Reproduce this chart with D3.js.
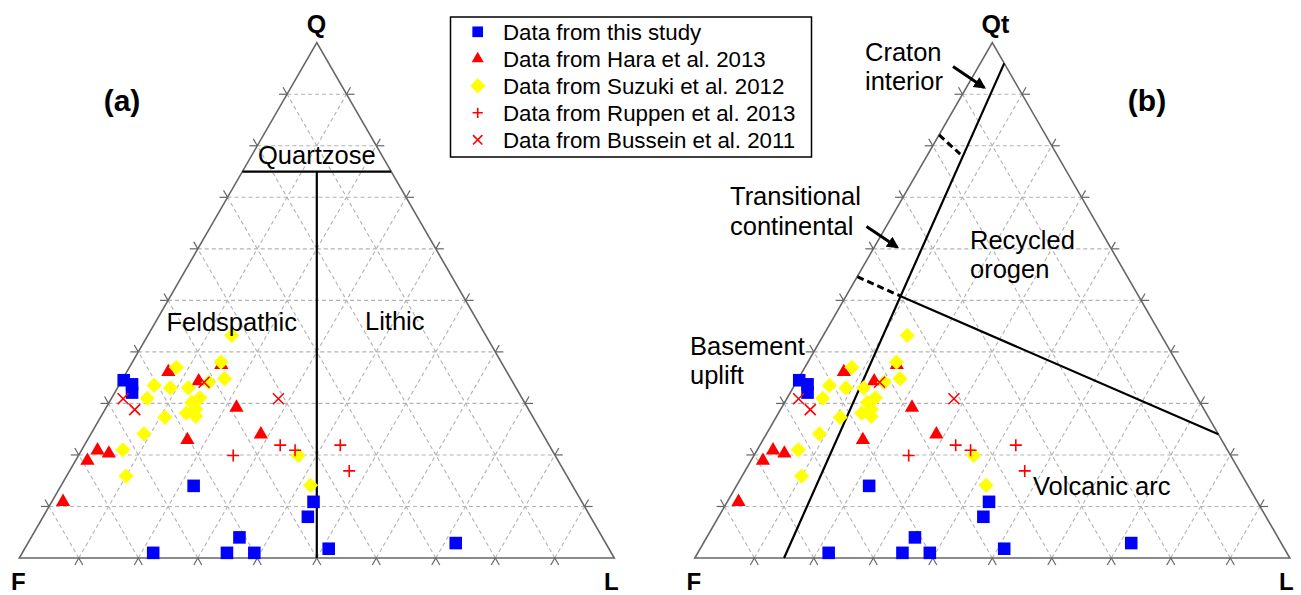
<!DOCTYPE html>
<html><head><meta charset="utf-8">
<script src="https://cdn.jsdelivr.net/npm/d3@7"></script>
<style>
body{margin:0;background:#fff}
svg{display:block}
text{font-family:"Liberation Sans",Arial,Helvetica,sans-serif;fill:#000}
</style>
</head><body>
<svg id="chart" width="1301" height="595"></svg>
<script>
// Compositions as [Q, F, L] in percent
const thisStudy = [
  [34.5,65.2,0.3],[33.7,64.2,2.1],[32.1,65.0,2.9],[14.0,63.7,22.3],
  [10.9,45.1,44.0],[8.0,47.5,44.5],[1.8,47.1,51.1],[2.9,25.2,71.9],
  [1.0,77.0,22.0],[1.0,64.6,34.4],[4.0,61.0,35.0],[1.0,60.0,39.0]
];
const hara2013 = [
  [36.1,56.9,7.0],[34.3,52.7,13.0],[29.2,48.9,21.9],[24.0,47.4,28.6],
  [22.9,60.3,16.8],[20.9,76.4,2.7],[20.3,74.8,4.9],[18.9,79.1,2.0],
  [10.9,87.2,1.9],[37.5,47.3,15.2]
];
const suzuki2012 = [
  [43.2,42.7,14.1],[37.0,55.1,7.9],[38.0,47.1,14.9],[34.8,48.1,17.1],
  [33.5,60.6,5.9],[33.0,58.1,8.9],[33.0,55.1,11.9],[34.1,51.1,14.8],
  [31.0,63.0,6.0],[31.1,54.1,14.8],[30.2,55.9,13.9],[28.1,57.9,14.0],
  [27.5,56.6,15.9],[27.3,61.9,10.8],[24.1,67.0,8.9],[21.0,72.1,6.9],
  [15.9,74.1,10.0],[19.9,43.2,36.9],[14.1,44.0,41.9],[28.9,55.9,15.2]
];
const ruppen2013 = [
  [19.9,54.1,26.0],[21.9,45.2,32.9],[20.9,43.2,35.9],[21.9,35.1,43.0],[16.9,36.1,47.0]
];
const bussein2011 = [
  [30.9,67.1,2.0],[28.8,66.2,5.0],[34.1,51.9,14.0],[30.9,41.0,28.1]
];
const legendLabels = [
  "Data from this study","Data from Hara et al. 2013","Data from Suzuki et al. 2012",
  "Data from Ruppen et al. 2013","Data from Bussein et al. 2011"
];
const gridSteps = [10,20,30,40,50,60,70,80,90];

// Field boundaries, [Q, F, L]
const qflBoundaries = [
  [[75,25,0],[75,0,25]],
  [[75,12.5,12.5],[0,50,50]]
];
const qtflSolid = [
  [[0,85,15],[96,0,4]],
  [[50.8,40.0,9.2],[24,0,76]]
];
const qtflDashed = [
  [[82.1,17.9,0],[78.4,16.2,5.4]],
  [[54.6,45.4,0],[50.8,40.0,9.2]]
];

const svg = d3.select("#chart");
svg.append("rect").attr("width",1301).attr("height",595).attr("fill","#fff");

const W = 595, H = W*Math.sqrt(3)/2;

function makeProj(left, base){
  const xs = d3.scaleLinear().domain([0,100]).range([left, left+W]);
  const ys = d3.scaleLinear().domain([0,100]).range([base, base-H]);
  return d => [xs(d[2] + d[0]/2), ys(d[0])];
}

const shapes = {
  square: d3.symbol().type(d3.symbolSquare).size(158)(),
  triangle: d3.symbol().type(d3.symbolTriangle).size(88)(),
  diamond: d3.symbol().type(d3.symbolSquare).size(116)()
};

function drawMarker(g, kind, x, y, scale){
  const s = scale || 1;
  if(kind === "square"){
    g.append("path").attr("d", shapes.square).attr("fill","#0000ff")
      .attr("transform",`translate(${x},${y}) scale(${s})`);
  } else if(kind === "triangle"){
    g.append("path").attr("d", shapes.triangle).attr("fill","#ff0000")
      .attr("transform",`translate(${x},${y}) scale(${s})`);
  } else if(kind === "diamond"){
    g.append("path").attr("d", shapes.diamond).attr("fill","#ffff00")
      .attr("transform",`translate(${x},${y}) rotate(45) scale(${s})`);
  } else if(kind === "plus"){
    const r = 6*s;
    g.append("path").attr("d",`M${x-r},${y}H${x+r}M${x},${y-r}V${y+r}`)
      .attr("stroke","#ff0000").attr("stroke-width",1.6).attr("fill","none");
  } else if(kind === "cross"){
    const r = 5.5*s;
    g.append("path").attr("d",`M${x-r},${y-r}L${x+r},${y+r}M${x-r},${y+r}L${x+r},${y-r}`)
      .attr("stroke","#ff0000").attr("stroke-width",1.6).attr("fill","none");
  }
}

const seriesList = [
  {data:thisStudy, kind:"square"},
  {data:hara2013, kind:"triangle"},
  {data:suzuki2012, kind:"diamond"},
  {data:ruppen2013, kind:"plus"},
  {data:bussein2011, kind:"cross"}
];

svg.append("defs").append("marker")
  .attr("id","arrowHead").attr("viewBox","0 0 10 10").attr("refX",8).attr("refY",5)
  .attr("markerWidth",4).attr("markerHeight",4).attr("orient","auto")
  .append("path").attr("d","M0,0L10,5L0,10Z").attr("fill","#000");

function drawPanel(left, base, opts){
  const p = makeProj(left, base);
  const g = svg.append("g");
  const tickLen = 8;

  // dashed grid and outward ticks
  const gridLines = [];
  gridSteps.forEach(v => {
    gridLines.push([[v,100-v,0],[v,0,100-v]]);
    gridLines.push([[0,100-v,v],[100-v,0,v]]);
    gridLines.push([[0,v,100-v],[100-v,v,0]]);
  });
  gridLines.forEach(([a,b]) => {
    const [x1,y1] = p(a), [x2,y2] = p(b);
    g.append("line").attr("x1",x1).attr("y1",y1).attr("x2",x2).attr("y2",y2)
      .attr("stroke","#b3b3b3").attr("stroke-width",1.1).attr("stroke-dasharray","4,3");
    const len = Math.hypot(x2-x1,y2-y1), ux=(x2-x1)/len, uy=(y2-y1)/len;
    g.append("line").attr("x1",x1).attr("y1",y1).attr("x2",x1-ux*tickLen).attr("y2",y1-uy*tickLen)
      .attr("stroke","#666").attr("stroke-width",1.2);
    g.append("line").attr("x1",x2).attr("y1",y2).attr("x2",x2+ux*tickLen).attr("y2",y2+uy*tickLen)
      .attr("stroke","#666").attr("stroke-width",1.2);
  });

  // outline
  const corners = [[0,100,0],[0,0,100],[100,0,0]].map(p);
  g.append("path").attr("d","M"+corners.map(c=>c.join(",")).join("L")+"Z")
    .attr("fill","none").attr("stroke","#666").attr("stroke-width",1.6);

  // field boundaries
  opts.solid.forEach(([a,b]) => {
    const [x1,y1]=p(a),[x2,y2]=p(b);
    g.append("line").attr("x1",x1).attr("y1",y1).attr("x2",x2).attr("y2",y2)
      .attr("stroke","#000").attr("stroke-width",2.2);
  });
  (opts.dashed||[]).forEach(([a,b]) => {
    const [x1,y1]=p(a),[x2,y2]=p(b);
    g.append("line").attr("x1",x1).attr("y1",y1).attr("x2",x2).attr("y2",y2)
      .attr("stroke","#000").attr("stroke-width",3).attr("stroke-dasharray","7,4");
  });

  // data
  seriesList.forEach(s => {
    s.data.forEach(d => { const [x,y] = p(d); drawMarker(g, s.kind, x, y); });
  });
  return g;
}

drawPanel(19.3, 558, {solid:qflBoundaries});
drawPanel(694.8, 558, {solid:qtflSolid, dashed:qtflDashed});

// vertex and panel labels
function label(txt, x, y, size, weight, anchor){
  svg.append("text").attr("x",x).attr("y",y).attr("font-size",size)
    .attr("font-weight",weight||"normal").attr("text-anchor",anchor||"start").text(txt);
}
label("Q", 316.5, 33, 25, "bold", "middle");
label("F", 11, 590, 24, "bold");
label("L", 604, 590, 24, "bold");
label("(a)", 122, 111, 30, "bold", "middle");
label("Qt", 981.5, 33, 25, "bold");
label("F", 686.5, 590, 24, "bold");
label("L", 1279, 590, 24, "bold");
label("(b)", 1147, 111, 30, "bold", "middle");

// field names
label("Quartzose", 316.8, 163.5, 25.5, "normal", "middle");
label("Feldspathic", 166.5, 331, 25.5);
label("Lithic", 365, 330, 25.5);
label("Craton", 865, 61, 25.5);
label("interior", 865, 90, 25.5);
label("Transitional", 730, 205, 25.5);
label("continental", 730, 235, 25.5);
label("Recycled", 970, 249, 25.5);
label("orogen", 970, 278, 25.5);
label("Basement", 690, 355, 25.5);
label("uplift", 690, 384, 25.5);
label("Volcanic arc", 1033, 495, 25.5);

// arrows
[[953,66.5,984,87.5],[866.5,226.5,897,247]].forEach(a => {
  svg.append("line").attr("x1",a[0]).attr("y1",a[1]).attr("x2",a[2]).attr("y2",a[3])
    .attr("stroke","#000").attr("stroke-width",3).attr("marker-end","url(#arrowHead)");
});

// legend
const lg = svg.append("g");
lg.append("rect").attr("x",450.5).attr("y",17).attr("width",361).attr("height",140)
  .attr("fill","#fff").attr("stroke","#000").attr("stroke-width",1.5);
const legendY = d3.scaleLinear().domain([0,4]).range([31.8,139.8]);
seriesList.forEach((s,i) => {
  const y = legendY(i);
  drawMarker(lg, s.kind, 477.7, y, s.kind==="diamond"?1.0:0.85);
  lg.append("text").attr("x",503).attr("y",y+8).attr("font-size",22.3).text(legendLabels[i]);
});
</script>
</body></html>
